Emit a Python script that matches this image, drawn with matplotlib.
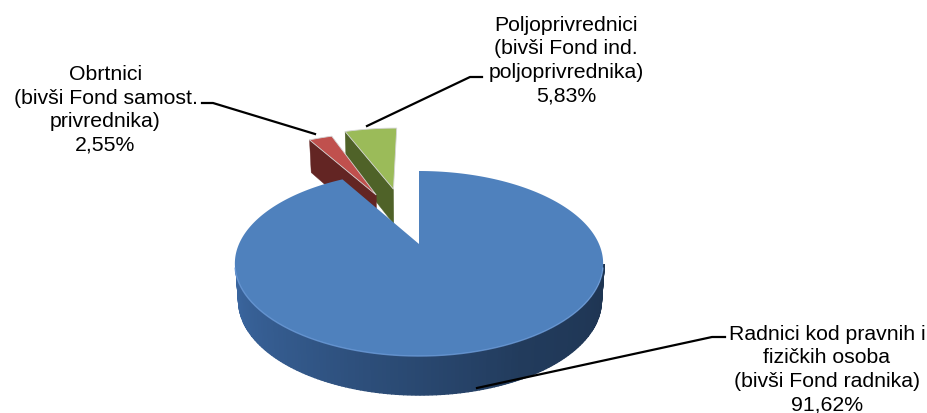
import numpy as np
import matplotlib
matplotlib.use("Agg")
import matplotlib.pyplot as plt
from matplotlib.colors import to_rgb

labels = ["Radnici kod pravnih i\nfizičkih osoba\n(bivši Fond radnika)\n91,62%",
          "Obrtnici\n(bivši Fond samost.\nprivrednika)\n2,55%",
          "Poljoprivrednici\n(bivši Fond ind.\npoljoprivrednika)\n5,83%"]
shares = [91.62, 2.55, 5.83]
explode = [0.0, 0.68, 0.68]
radius = [1.0, 1.08, 1.08]
top_colors = ["#4F81BD", "#C0504D", "#9BBB59"]
side_colors = ["#2F5280", "#632523", "#4F6228"]

CX, CY, RX, RY, K = 420.0, 245.0, 180.0, 88.4, 0.211
nudge = [(-1, 0), (3, -1), (-7, -3)]


def project(u, v, down=False):
    w = 1 + K * v
    x = CX + RX * u / w
    y = CY - RY * v / w
    if down:
        x = CX + (x - CX) * 0.985
        y = y + 36.5 - 2.5 * v
    return x, y


fig = plt.figure(figsize=(9.28, 4.14), dpi=100)
ax = fig.add_axes([0, 0, 1, 1])
ax.set_xlim(0, 928)
ax.set_ylim(414, 0)
ax.axis("off")

edges = 90 - np.cumsum([0] + shares) * 3.6
spans = [(edges[i + 1], edges[i]) for i in range(3)]


def wedge(i):
    a0, a1 = np.radians(spans[i])
    mid = (a0 + a1) / 2
    ex, ey = explode[i] * np.cos(mid), explode[i] * np.sin(mid)
    th = np.linspace(a0, a1, 300)
    us = np.r_[ex, ex + radius[i] * np.cos(th)]
    vs = np.r_[ey, ey + radius[i] * np.sin(th)]
    x, y = project(us, vs)
    return x + nudge[i][0], y + nudge[i][1]


# exploded slices (behind the big slice)
for i in (2, 1):
    a0, a1 = np.radians(spans[i])
    mid = (a0 + a1) / 2
    ex, ey = explode[i] * np.cos(mid), explode[i] * np.sin(mid)
    # cut face on the left side, from apex to outer corner
    us = np.array([ex, ex + radius[i] * np.cos(a1)])
    vs = np.array([ey, ey + radius[i] * np.sin(a1)])
    xt, yt = project(us, vs)
    xb, yb = project(us, vs, True)
    ax.fill(np.r_[xt, xb[::-1]] + nudge[i][0], np.r_[yt, yb[::-1]] + nudge[i][1],
            color=side_colors[i], lw=0.3, zorder=2)
    x, y = wedge(i)
    ax.fill(x, y, color=top_colors[i], ec="#d5d5d5", lw=0.6, zorder=3)

# rim of the big slice, shaded from left to right
th = np.linspace(np.pi * 1.07, 1.93 * np.pi, 151)
base = np.array(to_rgb(side_colors[0]))
for t0, t1 in zip(th[:-1], th[1:]):
    tt = np.array([t0, t1])
    xt, yt = project(np.cos(tt), np.sin(tt))
    xb, yb = project(np.cos(tt), np.sin(tt), True)
    f = (t0 - np.pi) / np.pi
    shade = base * np.interp(f, [0, 0.3, 0.65, 1], [1.32, 1.08, 0.72, 0.62])
    ax.fill(np.r_[xt, xb[::-1]], np.r_[yt, yb[::-1]], color=np.clip(shade, 0, 1), lw=1.0, zorder=4)

x, y = wedge(0)
ax.fill(x, y, color=top_colors[0], lw=0, zorder=5)
a = np.radians(np.linspace(195, 345, 200))
xr, yr = project(np.cos(a), np.sin(a))
ax.plot(xr - 1, yr, color="#6C9BD8", lw=1.0, alpha=0.8, zorder=6)

# leader lines
ax.plot([477, 712, 725], [389, 338, 338], color="black", lw=1.6, zorder=7)
ax.plot([315, 213, 202], [135, 104, 104], color="black", lw=1.6, zorder=7)
ax.plot([367, 470, 482], [127, 78, 78], color="black", lw=1.6, zorder=7)

font = dict(family="Liberation Sans", fontsize=15.3, ha="center", va="center",
            linespacing=1.30, color="black", zorder=8)
ax.text(827, 369.5, labels[0], **font)
ax.text(105.5, 110, labels[1], **font)
ax.text(566, 60.5, labels[2], **font)

fig.savefig("out.png", dpi=100)
